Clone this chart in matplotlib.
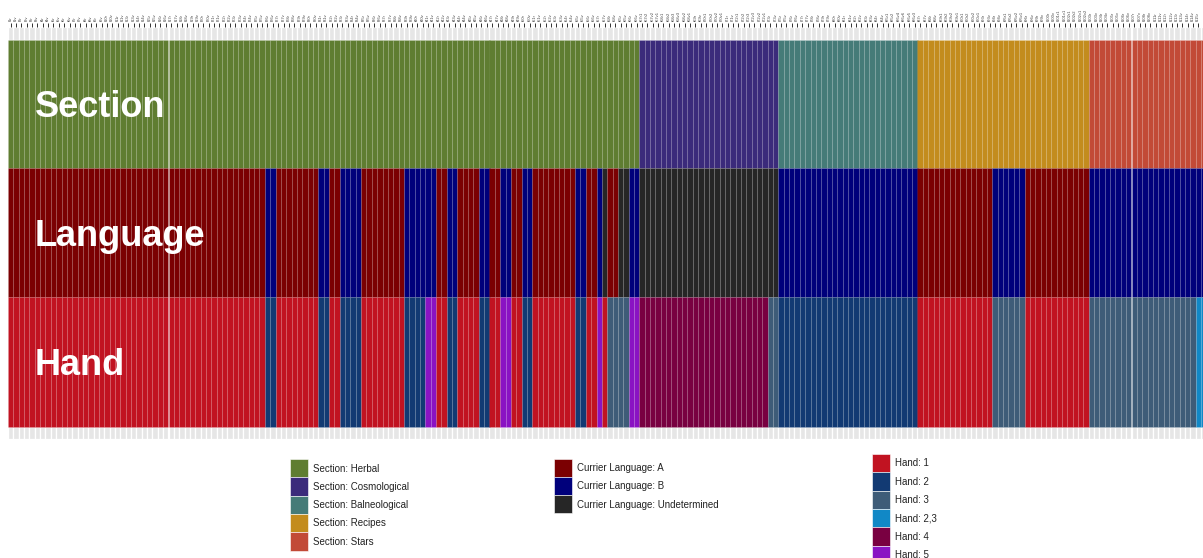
import matplotlib.pyplot as plt
from matplotlib.patches import Rectangle

plt.rcParams['font.family'] = ['Liberation Sans', 'DejaVu Sans']

# folio labels in manuscript order, grouped by section
herbal = ("f1r f1v f2r f2v f3r f3v f4r f4v f5r f5v f6r f6v f7r f7v f8r f8v f9r f9v f10r f10v "
          "f11r f11v f13r f13v f14r f14v f15r f15v f16r f16v f17r f17v f18r f18v f19r f19v "
          "f20r f20v f21r f21v f22r f22v f23r f23v f24r f24v f25r f25v f26r f26v f27r f27v "
          "f28r f28v f29r f29v f30r f30v f31r f31v f32r f32v f33r f33v f34r f34v f35r f35v "
          "f36r f36v f37r f37v f38r f38v f39r f39v f40r f40v f41r f41v f42r f42v f43r f43v "
          "f44r f44v f45r f45v f46r f46v f47r f47v f48r f48v f49r f49v f50r f50v f51r f51v "
          "f52r f52v f53r f53v f54r f54v f55r f55v f56r f56v f57r f57v f58r f58v f65r f65v "
          "f66r f66v").split()
cosmological = ("f67r1 f67r2 f67v2 f67v1 f68r1 f68r2 f68r3 f68v3 f68v2 f68v1 f69r f69v "
                "f70r1 f70r2 f70v2 f70v1 f71r f71v f72r1 f72r2 f72r3 f72v3 f72v2 f72v1 "
                "f73r f73v").split()
balneological = ("f75r f75v f76r f76v f77r f77v f78r f78v f79r f79v f80r f80v f81r f81v "
                 "f82r f82v f83r f83v f84r f84v f85r1 f85r2 f86v4 f86v6 f86v5 f86v3").split()
recipes = ("f87r f87v f88r f88v f89r1 f89r2 f89v2 f89v1 f90r1 f90r2 f90v2 f90v1 f93r f93v "
           "f94r f94v f95r1 f95r2 f95v2 f95v1 f96r f96v f99r f99v f100r f100v f101r1 f101v1 "
           "f102r1 f102r2 f102v1 f102v2").split()
stars = ("f103r f103v f104r f104v f105r f105v f106r f106v f107r f107v f108r f108v "
         "f111r f111v f112r f112v f113r f113v f114r f114v f115r f115v f116r f116v").split()

folios = herbal + cosmological + balneological + recipes + stars

# runs of (category, number of folios)
section_runs = [("Herbal", len(herbal)), ("Cosmological", len(cosmological)),
                ("Balneological", len(balneological)), ("Recipes", len(recipes)),
                ("Stars", len(stars))]
language_runs = [("A", 48), ("B", 2), ("A", 8), ("B", 2), ("A", 2), ("B", 4), ("A", 8),
                 ("B", 6), ("A", 2), ("B", 2), ("A", 4), ("B", 2), ("A", 2), ("B", 2),
                 ("A", 2), ("B", 2), ("A", 8), ("B", 2), ("A", 2), ("B", 1), ("Undetermined", 1),
                 ("A", 2), ("Undetermined", 2), ("B", 2), ("Undetermined", 26), ("B", 26),
                 ("A", 14), ("B", 6), ("A", 12), ("B", 24)]
hand_runs = [("1", 48), ("2", 2), ("1", 8), ("2", 2), ("1", 2), ("2", 4), ("1", 8), ("2", 4),
             ("5", 2), ("1", 2), ("2", 2), ("1", 4), ("2", 2), ("1", 2), ("5", 2), ("1", 2),
             ("2", 2), ("1", 8), ("2", 2), ("1", 2), ("5", 1), ("1", 1), ("3", 4), ("5", 2),
             ("4", 24), ("3", 2), ("2", 26), ("1", 14), ("3", 6), ("1", 12), ("3", 20),
             ("2,3", 4)]

section_colors = {"Herbal": "#5f7d31", "Cosmological": "#3b2b7b", "Balneological": "#457b78",
                  "Recipes": "#c38c1d", "Stars": "#c24a37"}
language_colors = {"A": "#7b0002", "B": "#00007b", "Undetermined": "#262626"}
hand_colors = {"1": "#c11321", "2": "#123a73", "3": "#3e5c78", "2,3": "#1188c6",
               "4": "#790041", "5": "#8a13c3"}


def expand(runs):
    out = []
    for key, n in runs:
        out += [key] * n
    return out


section = expand(section_runs)
language = expand(language_runs)
hand = expand(hand_runs)

W, H = 1203, 558
fig = plt.figure(figsize=(W / 100, H / 100), dpi=100)
col_w = 5.35
left = 8
ax = fig.add_axes([left / W, 1 - 439 / H, len(folios) * col_w / W, 412 / H])

x = list(range(len(folios)))
# gray strips above and below
for y0, y1 in [(27, 39.5), (426.5, 439)]:
    ax.bar(x, y1 - y0, bottom=y0, width=1, align='edge', color='#e6e6e6',
           edgecolor='white', linewidth=0.9)

rows = [(39.5, 168.3, [section_colors[s] for s in section], "Section"),
        (168.3, 297, [language_colors[s] for s in language], "Language"),
        (297, 426.5, [hand_colors[s] for s in hand], "Hand")]
for y0, y1, colors, name in rows:
    ax.bar(x, y1 - y0, bottom=y0, width=1, align='edge', color=colors,
           edgecolor=(1, 1, 1, 0.08), linewidth=0.5)
    fig.text(35 / W, 1 - ((y0 + y1) / 2 + 13) / H, name, color='white', fontsize=26,
             fontweight='bold', va='baseline', ha='left')

# only label the columns that fall inside the picture
shown = [i for i in x if left + (i + 0.5) * col_w < W - 3]
ax.set_xlim(0, len(folios))
ax.set_ylim(439, 27)
ax.set_xticks([i + 0.5 for i in shown])
ax.set_xticklabels([folios[i] for i in shown], rotation=90, fontsize=3, color='#444444')
ax.xaxis.tick_top()
ax.tick_params(axis='x', length=3, width=0.6, pad=1, color='#111111')
ax.set_yticks([])
for sp in ax.spines.values():
    sp.set_visible(False)


def legend(x0, y0, prefix, colors):
    for i, (key, c) in enumerate(colors.items()):
        top = y0 + i * 18.3
        fig.add_artist(Rectangle((x0 / W, 1 - (top + 18.3) / H), 18 / W, 18.3 / H,
                                 transform=fig.transFigure, facecolor=c,
                                 edgecolor='white', linewidth=0.4))
        fig.text((x0 + 23) / W, 1 - (top + 9.5) / H, prefix + key, fontsize=7,
                 color='#222222', va='center', ha='left')


legend(290, 459, "Section: ", section_colors)
legend(554, 458.5, "Currier Language: ", language_colors)
legend(872, 454, "Hand: ", hand_colors)

fig.savefig('out.png', dpi=100)
